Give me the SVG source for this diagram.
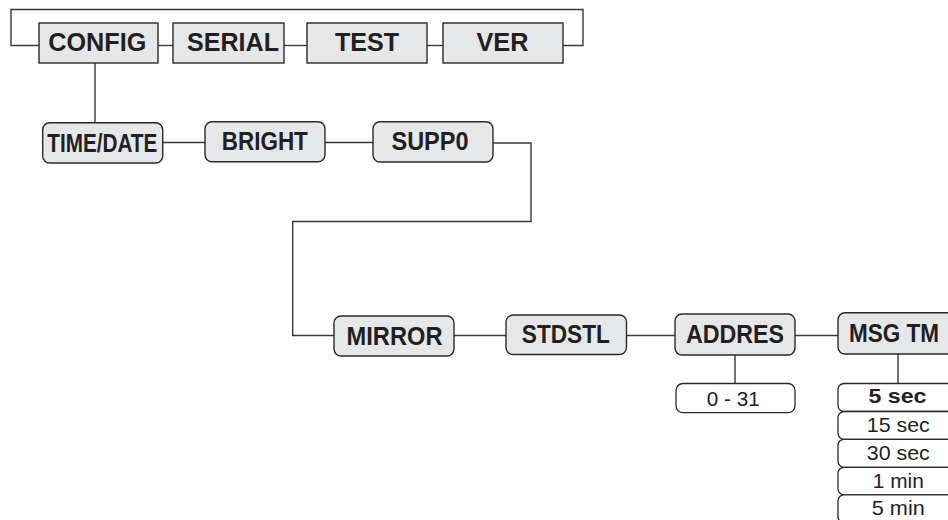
<svg xmlns="http://www.w3.org/2000/svg" width="948" height="520" viewBox="0 0 948 520">
<style>
.n{fill:#e6e7e8;stroke:#2b2829;stroke-width:1.4}
.s{fill:#ffffff;stroke:#2b2829;stroke-width:1.3}
.c{fill:none;stroke:#3a3839;stroke-width:1.4}
.t{font-family:"Liberation Sans",Arial,sans-serif;font-size:25px;font-weight:bold;fill:#231f20}
.st{font-family:"Liberation Sans",Arial,sans-serif;font-size:21px;fill:#231f20}
.b{font-weight:bold}
</style>
<rect width="948" height="520" fill="#ffffff"/>
<g id="connectors">
<polyline class="c" points="39,45.5 11,45.5 11,9.5 583,9.5 583,45.5 563,45.5"/>
<line class="c" x1="158" y1="45.5" x2="173" y2="45.5"/>
<line class="c" x1="284" y1="45.5" x2="307" y2="45.5"/>
<line class="c" x1="427" y1="45.5" x2="443" y2="45.5"/>
<line class="c" x1="95" y1="63" x2="95" y2="123"/>
<line class="c" x1="163" y1="142.5" x2="205" y2="142.5"/>
<line class="c" x1="325" y1="142.5" x2="373" y2="142.5"/>
<polyline class="c" points="493,143 531,143 531,221.5 292.7,221.5 292.7,335.5 334,335.5"/>
<line class="c" x1="454" y1="335.5" x2="506" y2="335.5"/>
<line class="c" x1="626" y1="335.5" x2="675" y2="335.5"/>
<line class="c" x1="795" y1="335.5" x2="838" y2="335.5"/>
<line class="c" x1="735" y1="355" x2="735" y2="383.5"/>
<line class="c" x1="898" y1="354" x2="898" y2="383.5"/>
</g>
<g id="config"><rect class="n" x="39" y="23" width="119" height="40"/><text class="t" x="97.3" y="50.5" text-anchor="middle" textLength="98" lengthAdjust="spacingAndGlyphs">CONFIG</text></g>
<g id="serial"><rect class="n" x="173" y="23" width="111" height="40"/><text class="t" x="233" y="50.5" text-anchor="middle" textLength="92" lengthAdjust="spacingAndGlyphs">SERIAL</text></g>
<g id="test"><rect class="n" x="307" y="23" width="120" height="40"/><text class="t" x="367" y="50.5" text-anchor="middle" textLength="64" lengthAdjust="spacingAndGlyphs">TEST</text></g>
<g id="ver"><rect class="n" x="443" y="23" width="120" height="40"/><text class="t" x="502.5" y="50.5" text-anchor="middle" textLength="52" lengthAdjust="spacingAndGlyphs">VER</text></g>
<g id="timedate"><rect class="n" x="42.7" y="122.7" width="120" height="40.3" rx="7"/><text class="t" x="102.3" y="152.2" text-anchor="middle" textLength="110" lengthAdjust="spacingAndGlyphs">TIME/DATE</text></g>
<g id="bright"><rect class="n" x="205" y="121.7" width="120" height="40" rx="7"/><text class="t" x="264.8" y="149.8" text-anchor="middle" textLength="86" lengthAdjust="spacingAndGlyphs">BRIGHT</text></g>
<g id="supp0"><rect class="n" x="373" y="121.7" width="120" height="40.3" rx="7"/><text class="t" x="430" y="149.8" text-anchor="middle" textLength="77" lengthAdjust="spacingAndGlyphs">SUPP0</text></g>
<g id="mirror"><rect class="n" x="334" y="316" width="120" height="40" rx="7"/><text class="t" x="394.5" y="344.7" text-anchor="middle" textLength="96" lengthAdjust="spacingAndGlyphs">MIRROR</text></g>
<g id="stdstl"><rect class="n" x="506" y="315" width="120.5" height="39.5" rx="7"/><text class="t" x="565.8" y="342.5" text-anchor="middle" textLength="88" lengthAdjust="spacingAndGlyphs">STDSTL</text></g>
<g id="addres"><rect class="n" x="675" y="314" width="120" height="41" rx="7"/><text class="t" x="735" y="342.5" text-anchor="middle" textLength="98" lengthAdjust="spacingAndGlyphs">ADDRES</text></g>
<g id="msgtm"><rect class="n" x="838" y="312.7" width="130" height="41.3" rx="7"/><text class="t" x="849" y="342" textLength="90" lengthAdjust="spacingAndGlyphs">MSG TM</text></g>
<g id="range"><rect class="s" x="676" y="383.5" width="119" height="29.2" rx="7"/><text class="st" x="733.3" y="406" text-anchor="middle" textLength="53" lengthAdjust="spacingAndGlyphs">0 - 31</text></g>
<g id="opt5sec"><rect class="s" x="838" y="383.5" width="130" height="28" rx="6"/><text class="st b" x="897.5" y="403.3" text-anchor="middle" textLength="58" lengthAdjust="spacingAndGlyphs">5 sec</text></g>
<g id="opt15sec"><rect class="s" x="838" y="411.5" width="130" height="27.8" rx="6"/><text class="st" x="898.3" y="431.5" text-anchor="middle" textLength="63" lengthAdjust="spacingAndGlyphs">15 sec</text></g>
<g id="opt30sec"><rect class="s" x="838" y="439.3" width="130" height="28" rx="6"/><text class="st" x="898.3" y="459.8" text-anchor="middle" textLength="63" lengthAdjust="spacingAndGlyphs">30 sec</text></g>
<g id="opt1min"><rect class="s" x="838" y="467.3" width="130" height="27.5" rx="6"/><text class="st" x="898.3" y="487.8" text-anchor="middle" textLength="51" lengthAdjust="spacingAndGlyphs">1 min</text></g>
<g id="opt5min"><rect class="s" x="838" y="494.8" width="130" height="28" rx="6"/><text class="st" x="898.3" y="514.8" text-anchor="middle" textLength="53" lengthAdjust="spacingAndGlyphs">5 min</text></g>
</svg>
